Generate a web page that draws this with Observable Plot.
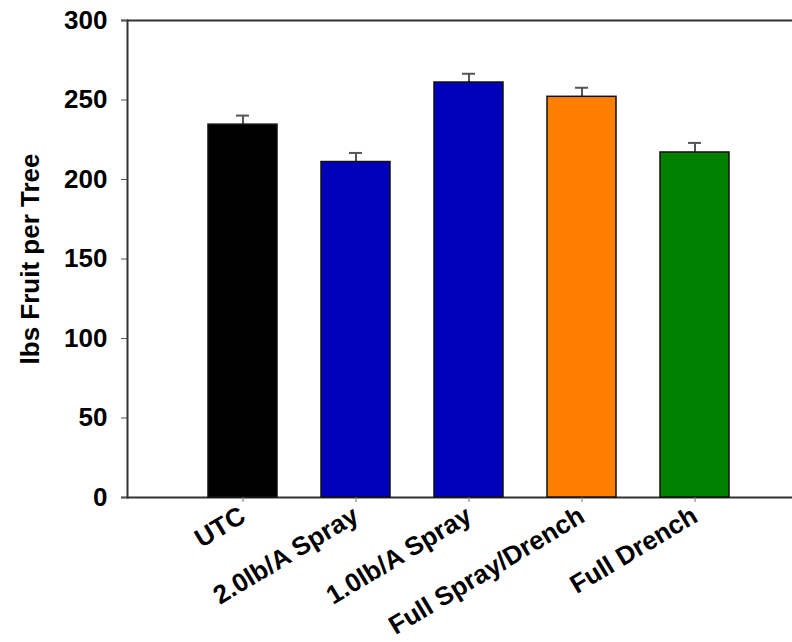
<!DOCTYPE html>
<html>
<head>
<meta charset="utf-8">
<script src="https://cdn.jsdelivr.net/npm/d3@7"></script>
<script src="https://cdn.jsdelivr.net/npm/@observablehq/plot@0.6"></script>
<style>
  html, body { margin: 0; padding: 0; background: #fff; }
  svg { font-family: "Liberation Sans", Arial, sans-serif; }
</style>
</head>
<body>
<div id="chart"></div>
<script>
const categories = ["UTC", "2.0lb/A Spray", "1.0lb/A Spray", "Full Spray/Drench", "Full Drench"];
const values = [234.5, 211, 261, 252, 217];
const errors = [5.7, 5.7, 5.5, 5.7, 6];
const colors = ["#000000", "#0000bb", "#0000bb", "#ff8000", "#008000"];
const yTicks = [0, 50, 100, 150, 200, 250, 300];

const data = categories.map((c, i) => ({cat: c, v: values[i], e: errors[i], top: values[i] + errors[i], color: colors[i]}));

const chart = Plot.plot({
  width: 792,
  height: 642,
  marginLeft: 127,
  marginRight: 0,
  marginTop: 20,
  marginBottom: 145,
  style: {fontFamily: "Liberation Sans, Arial, sans-serif", fontWeight: "bold", color: "#000"},
  x: {type: "band", domain: categories, range: [206.5, 729.5], paddingInner: 0.392, paddingOuter: 0},
  y: {domain: [0, 300], ticks: yTicks},
  marks: [
    Plot.ruleY([0, 300], {stroke: "#333", strokeWidth: 2, insetLeft: -6}),
    Plot.frame({anchor: "left", stroke: "#333", strokeWidth: 2}),
    Plot.ruleX(data, {x: "cat", y1: "v", y2: "top", stroke: "#555", strokeWidth: 2}),
    Plot.tickY(data, {x: "cat", y: "top", stroke: "#555", strokeWidth: 2, insetLeft: 28, insetRight: 28}),
    Plot.barY(data, {x: "cat", y: "v", fill: "color", stroke: "#111", strokeWidth: 1.5}),
    Plot.axisY({ticks: yTicks, tickSize: 6, tickPadding: 14, stroke: "#555", fontSize: 26, fontWeight: "bold",
      label: "lbs Fruit per Tree", labelAnchor: "center", labelArrow: "none", labelOffset: 107}),
    Plot.axisX({tickSize: 5, tickPadding: 11, tickRotate: -31, stroke: "#777", fontSize: 26, fontWeight: "bold", label: null})
  ]
});
document.getElementById("chart").appendChild(chart);
</script>
</body>
</html>
